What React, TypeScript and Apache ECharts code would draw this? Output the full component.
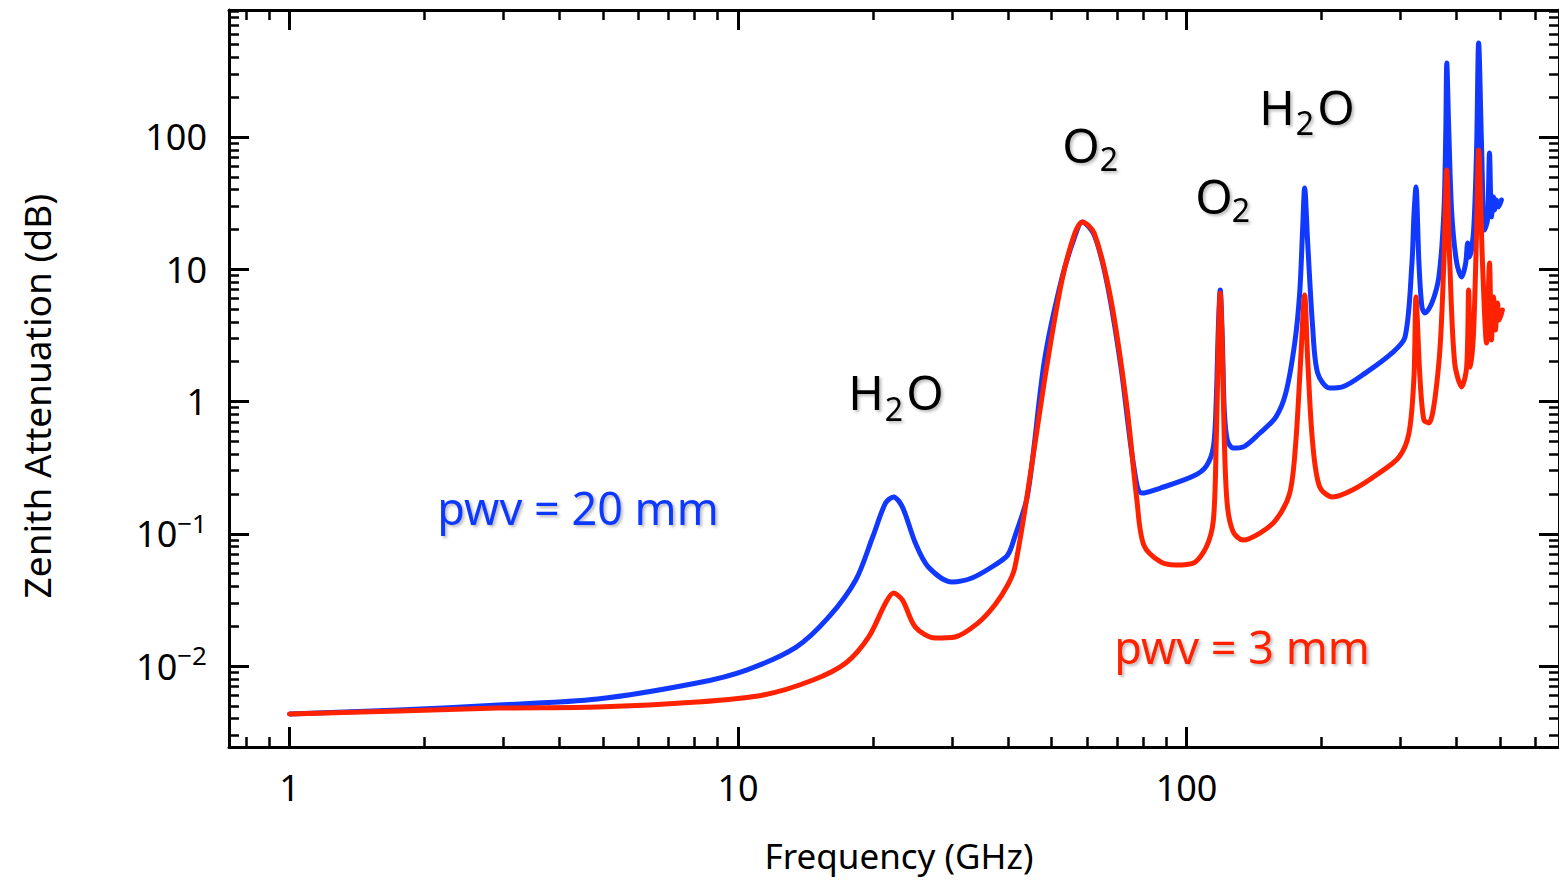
import React, { useEffect, useRef } from "react";
import * as echarts from "echarts";

// ---- data (frequency in GHz, zenith attenuation in dB) ----
const blueFreq = [
  1, 1.752, 2.918, 4.86, 8.09, 10.44, 13.48, 15.94, 18.3, 19.96, 21.33, 22.22, 23.26, 24.85, 26.56,
  30.01, 33.23, 37.37, 39.93, 41.39, 44.21, 48.24, 52.6, 56.19, 58.55, 62.23, 66.49, 71.42, 76.31,
  79.49, 87.6, 103.6, 110.7, 114.8, 116.5, 117.7, 118.9, 120.2, 121.4, 123.3, 127.1, 133.7, 145.8,
  158.2, 166.5, 174.3, 178.8, 181.6, 183.4, 186.3, 191.1, 196.1, 208.4, 222.7, 250.4, 287.4, 307.1,
  318.2, 321.5, 324.8, 329.8, 334.9, 340.1, 352.5, 365.3, 374.8, 378.6, 380.5, 384.4, 390.3, 400.4,
  410.8, 419.3, 423.6, 427.9, 436.8, 443.5, 448.1, 455.0, 461.9, 469.0, 473.8, 478.7, 483.6, 486.0,
  491.0, 496.1, 503.7,
];
const blueAtten = [
  0.00434, 0.00465, 0.00507, 0.00563, 0.00744, 0.00933, 0.0139, 0.0235, 0.0447, 0.0945, 0.171, 0.19,
  0.159, 0.0851, 0.0561, 0.0432, 0.0463, 0.058, 0.0691, 0.0945, 0.196, 2.06, 8.29, 17.2, 22.8, 18.2,
  7.87, 1.82, 0.32, 0.203, 0.222, 0.273, 0.325, 0.453, 1.03, 3.47, 6.97, 2.92, 0.862, 0.512, 0.445,
  0.453, 0.578, 0.763, 1.16, 2.77, 6.61, 20.9, 41.2, 15.8, 3.66, 1.64, 1.265, 1.29, 1.64, 2.33, 3.07,
  11.15, 25.7, 41.9, 11.15, 5.18, 4.67, 5.56, 8.74, 26.6, 113.0, 362.7, 113.0, 26.6, 11.15, 8.74,
  11.15, 15.8, 12.4, 19.8, 84.0, 513.8, 84.0, 19.8, 23.6, 75.7, 24.8, 35.2, 28.1, 33.4, 29.6, 33.4,
];
const redFreq = [
  1, 1.752, 2.918, 4.86, 8.09, 11.39, 14.7, 17.39, 19.56, 21.33, 22.22, 23.26, 24.85, 27.52, 30.48,
  34.26, 37.37, 39.93, 41.39, 44.21, 48.24, 52.6, 56.19, 58.55, 62.23, 67.86, 73.64, 77.5, 80.31,
  87.6, 94.54, 103.6, 110.7, 114.8, 116.5, 117.7, 118.9, 120.2, 121.4, 123.3, 127.1, 133.7, 145.8,
  158.2, 169.9, 175.2, 179.7, 183.4, 186.3, 191.1, 198.1, 211.6, 234.4, 269.0, 297.8, 313.4, 321.5,
  324.8, 331.5, 338.3, 347.1, 365.3, 374.8, 380.5, 386.4, 396.3, 410.8, 421.4, 425.7, 430.1, 436.8,
  443.5, 448.1, 457.1, 466.6, 473.8, 478.7, 483.6, 488.5, 493.5, 498.6, 506.3,
];
const redAtten = [
  0.00434, 0.00457, 0.00481, 0.0049, 0.00534, 0.00604, 0.00784, 0.01054, 0.0166, 0.03, 0.0356,
  0.0315, 0.0197, 0.0163, 0.0166, 0.0211, 0.0289, 0.041, 0.0551, 0.203, 1.45, 7.87, 18.2, 22.8, 18.8,
  5.85, 0.909, 0.18, 0.0822, 0.0612, 0.058, 0.0601, 0.0794, 0.127, 0.512, 2.45, 6.61, 2.45, 0.512,
  0.165, 0.1031, 0.0897, 0.1013, 0.127, 0.203, 0.486, 2.06, 6.39, 2.06, 0.486, 0.226, 0.19, 0.214,
  0.288, 0.38, 0.578, 1.53, 6.17, 1.53, 0.725, 0.688, 1.95, 11.15, 56.3, 11.15, 1.95, 1.29, 1.82,
  6.97, 1.82, 3.47, 19.8, 79.7, 11.15, 2.77, 11.15, 2.92, 6.17, 3.47, 5.56, 4.13, 4.92,
];

const xRange = [0.7326, 677]; // GHz
const yRange = [0.002443, 912]; // dB
const xMajorTicks = [1, 10, 100];
const xMinorTicks = [0.8, 0.9, 2, 3, 4, 5, 6, 7, 8, 9, 20, 30, 40, 50, 60, 70, 80, 90, 200, 300, 400, 500, 600];
const yMajorTicks = [0.01, 0.1, 1, 10, 100];
const yMinorTicks = [
  0.003, 0.004, 0.005, 0.006, 0.007, 0.008, 0.009, 0.02, 0.03, 0.04, 0.05, 0.06, 0.07, 0.08, 0.09,
  0.2, 0.3, 0.4, 0.5, 0.6, 0.7, 0.8, 0.9, 2, 3, 4, 5, 6, 7, 8, 9, 20, 30, 40, 50, 60, 70, 80, 90,
  200, 300, 400, 500, 600, 700, 800, 900,
];

const seriesNames = ["pwv = 20 mm", "pwv = 3 mm"];
const xTitle = "Frequency (GHz)";
const yTitle = "Zenith Attenuation (dB)";

const FONT = "Noto Sans";
const BLUE = "#1038ff";
const RED = "#ff2200";

const lg = (v: number) => Math.log10(v);

function App() {
  const ref = useRef<HTMLDivElement>(null);
  useEffect(() => {
    if (!ref.current) return;
    const chart = echarts.init(ref.current, null, { renderer: "svg" });
    const xb = { type: "value", min: lg(xRange[0]), max: lg(xRange[1]), splitLine: { show: false }, scale: true };
    const yb = { type: "value", min: lg(yRange[0]), max: lg(yRange[1]), splitLine: { show: false }, scale: true };
    const lineStyle = { color: "#000", width: 3 };
    const axLine = { show: true, onZero: false, lineStyle };
    const noLine = { show: false, onZero: false };
    const majorTick = (vals: number[]) => ({
      show: true, inside: true, length: 20, customValues: vals.map(lg), lineStyle: { color: "#000", width: 3 },
    });
    const minorTick = (vals: number[]) => ({
      show: true, inside: true, length: 10, customValues: vals.map(lg), lineStyle: { color: "#000", width: 2.5 },
    });
    const noLabel = { show: false };
    const labelText = { fontFamily: FONT, fontSize: 36, color: "#000" };

    const xAxis: any[] = [
      {
        ...xb, position: "bottom", axisLine: axLine, axisTick: majorTick(xMajorTicks),
        axisLabel: {
          show: true, customValues: xMajorTicks.map(lg), margin: 22, ...labelText,
          formatter: (v: number) => String(Math.round(Math.pow(10, v))),
        },
      },
      { ...xb, position: "bottom", axisLine: noLine, axisTick: minorTick(xMinorTicks), axisLabel: noLabel },
      { ...xb, position: "top", axisLine: axLine, axisTick: majorTick(xMajorTicks), axisLabel: noLabel },
      { ...xb, position: "top", axisLine: noLine, axisTick: minorTick(xMinorTicks), axisLabel: noLabel },
    ];
    const yAxis: any[] = [
      {
        ...yb, position: "left", axisLine: axLine, axisTick: majorTick(yMajorTicks),
        axisLabel: {
          show: true, customValues: yMajorTicks.map(lg), margin: 22, ...labelText,
          formatter: (v: number) => {
            const e = Math.round(v);
            if (e >= 0) return String(Math.pow(10, e));
            return `{b|10}{s|\u2212${-e}}`;
          },
          rich: {
            b: { fontFamily: FONT, fontSize: 36, color: "#000" },
            s: { fontFamily: FONT, fontSize: 26, color: "#000", padding: [0, 0, 22, 0] },
          },
        },
      },
      { ...yb, position: "left", axisLine: noLine, axisTick: minorTick(yMinorTicks), axisLabel: noLabel },
      { ...yb, position: "right", axisLine: axLine, axisTick: majorTick(yMajorTicks), axisLabel: noLabel },
      { ...yb, position: "right", axisLine: noLine, axisTick: minorTick(yMinorTicks), axisLabel: noLabel },
    ];

    const mk = (f: number[], a: number[]) => f.map((v, i) => [lg(v), lg(a[i])]);
    const shadow = { textShadowColor: "rgba(0,0,0,0.28)", textShadowBlur: 3, textShadowOffsetX: 2, textShadowOffsetY: 2 };
    const txt = (text: string, x: number, y: number, size: number, color = "#000", extra: any = {}) => ({
      type: "text", x, y, silent: true,
      style: {
        text, fontFamily: FONT, fontSize: size, fill: color, textAlign: "center", textVerticalAlign: "middle",
        ...extra,
      },
    });
    const anno = (parts: [string, number, number, number][]) =>
      parts.map(([t, x, y, s]) => txt(t, x, y, s, "#000", shadow));
    const lineSeries = (name: string, data: number[][], color: string, z: number) => ({
      name, type: "line", xAxisIndex: 0, yAxisIndex: 0, data, showSymbol: false, z,
      smooth: 0.3,
      lineStyle: { color, width: 5, join: "round", cap: "round" },
    });

    chart.setOption({
      animation: false,
      backgroundColor: "#fff",
      grid: { left: 229, right: -9, top: 10, bottom: 134, containLabel: false },
      xAxis,
      yAxis,
      series: [
        lineSeries(seriesNames[0], mk(blueFreq, blueAtten), BLUE, 3),
        lineSeries(seriesNames[1], mk(redFreq, redAtten), RED, 4),
      ],
      graphic: [
        txt(xTitle, 899, 855, 35),
        { ...txt(yTitle, 36, 396, 37), rotation: Math.PI / 2 },
        ...anno([
          ["H", 866, 391, 48], ["2", 894, 408, 32], ["O", 925, 391, 48],
          ["O", 1081, 144, 48], ["2", 1109, 158, 32],
          ["O", 1214, 195, 48], ["2", 1241, 209, 32],
          ["H", 1277, 106, 48], ["2", 1305, 122, 32], ["O", 1336, 106, 48],
        ]),
        txt(seriesNames[0], 578, 507, 45, BLUE, shadow),
        txt(seriesNames[1], 1242, 646, 45, RED, shadow),
      ],
    });
    return () => chart.dispose();
  }, []);
  return <div ref={ref} style={{ position: "absolute", left: 0, top: 0, width: 1559, height: 881 }} />;
}

export default App;
